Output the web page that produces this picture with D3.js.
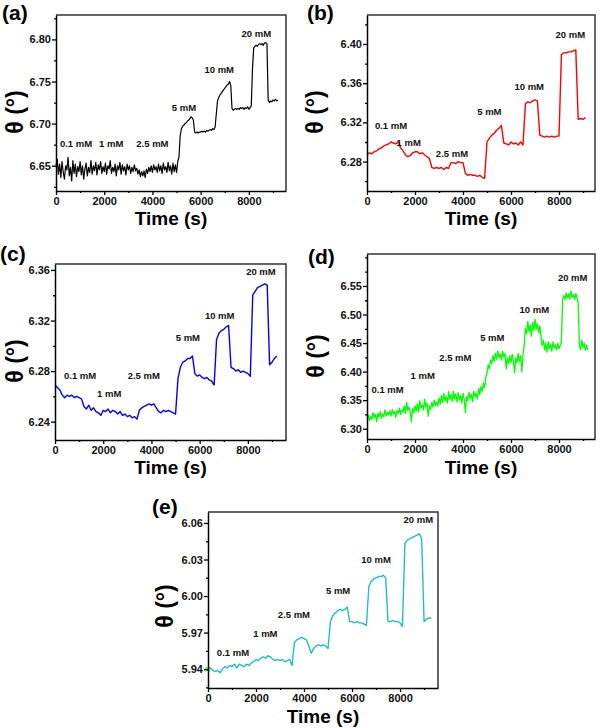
<!DOCTYPE html>
<html><head><meta charset="utf-8">
<script src="https://cdn.jsdelivr.net/npm/d3@7"></script>
<style>
body{margin:0;background:#fff;}
svg{display:block;font-family:Arial,"Liberation Sans",sans-serif;}
</style>
</head><body>
<svg id="fig" width="600" height="728"></svg>
<script>
// ---------- DATA ----------
// 100 s sampling grid (panels b, c, e)
const TIME = [0,100,200,300,400,500,600,700,800,900,1000,1100,1200,1300,1400,1500,1600,1700,1800,1900,
  2000,2100,2200,2300,2400,2500,2600,2700,2800,2900,3000,3100,3200,3300,3400,3500,3600,3700,3800,3900,
  4000,4100,4200,4300,4400,4500,4600,4700,4800,4900,5000,5100,5200,5300,5400,5500,5600,5700,5800,5900,
  6000,6100,6200,6300,6400,6500,6600,6700,6800,6900,7000,7100,7200,7300,7400,7500,7600,7700,7800,7900,
  8000,8100,8200,8300,8400,8500,8600,8700,8800,8900,9000,9100,9200,9300];
// 50 s sampling grid (noisy panels a, d)
const TIME_FINE = [0,50,100,150,200,250,300,350,400,450,500,550,600,650,700,750,800,850,900,950,
  1000,1050,1100,1150,1200,1250,1300,1350,1400,1450,1500,1550,1600,1650,1700,1750,1800,1850,1900,1950,
  2000,2050,2100,2150,2200,2250,2300,2350,2400,2450,2500,2550,2600,2650,2700,2750,2800,2850,2900,2950,
  3000,3050,3100,3150,3200,3250,3300,3350,3400,3450,3500,3550,3600,3650,3700,3750,3800,3850,3900,3950,
  4000,4050,4100,4150,4200,4250,4300,4350,4400,4450,4500,4550,4600,4650,4700,4750,4800,4850,4900,4950,
  5000,5050,5100,5150,5200,5250,5300,5350,5400,5450,5500,5550,5600,5650,5700,5750,5800,5850,5900,5950,
  6000,6050,6100,6150,6200,6250,6300,6350,6400,6450,6500,6550,6600,6650,6700,6750,6800,6850,6900,6950,
  7000,7050,7100,7150,7200,7250,7300,7350,7400,7450,7500,7550,7600,7650,7700,7750,7800,7850,7900,7950,
  8000,8050,8100,8150,8200,8250,8300,8350,8400,8450,8500,8550,8600,8650,8700,8750,8800,8850,8900,8950,
  9000,9050,9100,9150,9200];

const thetaA = [6.650,6.658,6.640,6.652,6.636,6.655,6.642,6.634,6.650,6.645,6.660,6.638,6.648,6.632,6.656,6.641,6.652,6.637,6.649,6.643,
 6.655,6.639,6.650,6.634,6.646,6.653,6.638,6.648,6.642,6.656,6.640,6.650,6.644,6.654,6.639,6.651,6.645,6.655,6.641,6.649,
 6.643,6.653,6.640,6.650,6.646,6.656,6.641,6.648,6.643,6.652,6.638,6.650,6.645,6.654,6.640,6.651,6.644,6.649,6.639,6.652,
 6.645,6.650,6.641,6.648,6.643,6.651,6.644,6.647,6.640,6.645,6.637,6.643,6.638,6.644,6.636,6.646,6.641,6.648,6.643,6.650,
 6.642,6.651,6.645,6.649,6.642,6.652,6.644,6.650,6.641,6.653,6.645,6.649,6.642,6.654,6.644,6.650,6.640,6.653,6.643,6.651,
 6.642,6.655,6.660,6.685,6.694,6.697,6.698,6.700,6.701,6.703,6.704,6.706,6.708,6.707,6.704,6.690,6.689,6.690,6.689,6.690,
 6.690,6.691,6.690,6.691,6.690,6.692,6.691,6.692,6.693,6.692,6.694,6.693,6.696,6.712,6.727,6.731,6.734,6.736,6.738,6.740,
 6.742,6.744,6.746,6.747,6.750,6.745,6.718,6.716,6.717,6.718,6.717,6.718,6.717,6.719,6.718,6.719,6.717,6.719,6.718,6.720,
 6.717,6.719,6.721,6.765,6.790,6.792,6.793,6.792,6.794,6.795,6.794,6.795,6.793,6.796,6.796,6.795,6.728,6.725,6.727,6.726,
 6.728,6.727,6.729,6.727,6.728];

const thetaB = [6.287,6.289,6.288,6.290,6.291,6.293,6.294,6.296,6.297,6.298,
 6.300,6.299,6.298,6.300,6.294,6.291,6.287,6.285,6.286,6.289,
 6.290,6.290,6.288,6.289,6.287,6.285,6.283,6.274,6.273,6.274,
 6.273,6.274,6.272,6.274,6.273,6.279,6.279,6.278,6.280,6.279,
 6.279,6.268,6.266,6.267,6.266,6.266,6.265,6.266,6.264,6.263,
 6.300,6.304,6.307,6.309,6.312,6.314,6.317,6.299,6.298,6.297,
 6.300,6.298,6.299,6.297,6.300,6.297,6.339,6.341,6.340,6.342,
 6.343,6.342,6.307,6.306,6.305,6.306,6.305,6.306,6.305,6.306,
 6.306,6.389,6.391,6.391,6.392,6.392,6.393,6.394,6.323,6.324,
 6.323,6.325];

const thetaC = [6.269,6.267,6.265,6.261,6.259,6.261,6.260,6.261,6.259,6.260,
 6.259,6.258,6.252,6.250,6.253,6.249,6.251,6.248,6.247,6.245,
 6.249,6.248,6.250,6.247,6.249,6.248,6.246,6.248,6.245,6.246,
 6.244,6.245,6.243,6.244,6.242,6.249,6.251,6.252,6.253,6.254,
 6.253,6.254,6.251,6.248,6.247,6.249,6.248,6.249,6.248,6.247,
 6.246,6.274,6.283,6.287,6.288,6.290,6.290,6.292,6.278,6.276,
 6.277,6.275,6.274,6.275,6.273,6.272,6.269,6.305,6.310,6.312,
 6.313,6.315,6.316,6.283,6.282,6.280,6.281,6.279,6.280,6.279,
 6.278,6.276,6.340,6.343,6.346,6.347,6.348,6.349,6.348,6.285,
 6.287,6.290,6.292];

const thetaD = [6.318,6.324,6.314,6.322,6.316,6.328,6.319,6.325,6.313,6.327,6.320,6.330,6.318,6.326,6.321,6.333,6.322,6.329,6.324,6.331,
 6.322,6.334,6.326,6.330,6.320,6.332,6.327,6.336,6.325,6.333,6.329,6.340,6.327,6.346,6.332,6.338,6.330,6.312,6.335,6.328,
 6.340,6.331,6.344,6.330,6.349,6.336,6.342,6.333,6.352,6.338,6.345,6.322,6.340,6.334,6.346,6.338,6.350,6.341,6.347,6.339,
 6.354,6.343,6.358,6.346,6.362,6.349,6.356,6.345,6.365,6.351,6.360,6.348,6.366,6.352,6.361,6.347,6.363,6.350,6.358,6.345,
 6.362,6.352,6.328,6.356,6.349,6.364,6.353,6.360,6.348,6.366,6.356,6.362,6.352,6.370,6.360,6.374,6.366,6.380,6.372,6.390,
 6.398,6.412,6.405,6.420,6.414,6.428,6.418,6.432,6.422,6.436,6.425,6.431,6.420,6.436,6.426,6.432,6.405,6.424,6.414,6.428,
 6.416,6.430,6.420,6.398,6.424,6.416,6.432,6.418,6.428,6.400,6.430,6.445,6.476,6.466,6.488,6.470,6.482,6.462,6.486,6.472,
 6.492,6.474,6.484,6.468,6.480,6.462,6.446,6.455,6.438,6.450,6.434,6.452,6.440,6.448,6.436,6.452,6.441,6.447,6.438,6.450,
 6.440,6.446,6.452,6.525,6.533,6.526,6.538,6.529,6.536,6.527,6.541,6.530,6.535,6.526,6.537,6.529,6.520,6.445,6.438,6.455,
 6.442,6.450,6.437,6.446,6.438];

const thetaE = [5.940,5.941,5.939,5.938,5.939,5.937,5.940,5.942,5.941,5.943,
 5.942,5.944,5.941,5.944,5.943,5.942,5.944,5.943,5.945,5.946,
 5.948,5.947,5.949,5.950,5.949,5.951,5.950,5.948,5.947,5.948,
 5.947,5.948,5.946,5.947,5.948,5.943,5.962,5.964,5.965,5.966,
 5.965,5.964,5.959,5.953,5.957,5.959,5.960,5.959,5.960,5.959,
 5.957,5.979,5.984,5.986,5.988,5.989,5.988,5.989,5.991,5.979,
 5.979,5.978,5.979,5.978,5.978,5.977,5.976,6.008,6.012,6.014,
 6.015,6.016,6.016,6.017,6.015,5.979,5.979,5.980,5.979,5.979,
 5.978,5.975,6.043,6.046,6.047,6.048,6.049,6.050,6.051,6.047,
 5.979,5.981,5.982,5.982];

const concLabels = ["0.1 mM","1 mM","2.5 mM","5 mM","10 mM","20 mM"];
// label anchors in data coordinates (time, theta)
const labelTimeA = [830,2290,4000,5310,6770,8310];
const labelThetaA = [6.672,6.672,6.672,6.715,6.760,6.803];
const labelTimeB = [1000,1740,3540,5100,6760,8470];
const labelThetaB = [6.313,6.296,6.2845,6.328,6.353,6.406];
const labelTimeC = [1040,2250,3680,5510,6830,8540];
const labelThetaC = [6.2734,6.2592,6.2734,6.304,6.321,6.356];
const labelTimeD = [860,2320,3680,5220,6970,8570];
const labelThetaD = [6.362,6.387,6.419,6.453,6.5035,6.558];
const labelTimeE = [1040,2390,3580,5420,7000,8760];
const labelThetaE = [5.951,5.9667,5.982,6.0014,6.027,6.060];

const xTickValues = [0,2000,4000,6000,8000];
const xMinorValues = [1000,3000,5000,7000,9000];
const yTicksA = [6.65,6.70,6.75,6.80], yMinorA = [6.625,6.675,6.725,6.775,6.825];
const yTicksB = [6.28,6.32,6.36,6.40], yMinorB = [6.26,6.30,6.34,6.38,6.42];
const yTicksC = [6.24,6.28,6.32,6.36], yMinorC = [6.26,6.30,6.34];
const yTicksD = [6.30,6.35,6.40,6.45,6.50,6.55], yMinorD = [6.325,6.375,6.425,6.475,6.525,6.575,6.60];
const yTicksE = [5.94,5.97,6.00,6.03,6.06], yMinorE = [5.925,5.955,5.985,6.015,6.045];

const panelNames = ["(a)","(b)","(c)","(d)","(e)"];
const xTitle = "Time (s)";
const yTitle = "θ (°)";

// ---------- LAYOUT ----------
const panels = [
  {name:panelNames[0], time:TIME_FINE, vals:thetaA, color:"#000000", lt:labelTimeA, lv:labelThetaA, yt:yTicksA, ym:yMinorA,
   box:{l:56,r:286,t:15,b:191}, xMax:9540, yDom:[6.62,6.829], nameXY:[2,20], yTitleXY:[15,112], xTitleY:225, lw:1.2},
  {name:panelNames[1], time:TIME, vals:thetaB, color:"#ff0000", lt:labelTimeB, lv:labelThetaB, yt:yTicksB, ym:yMinorB,
   box:{l:367,r:595,t:15,b:191}, xMax:9500, yDom:[6.25,6.4296], nameXY:[307,20], yTitleXY:[315,112], xTitleY:225, lw:1.4},
  {name:panelNames[2], time:TIME, vals:thetaC, color:"#0000ff", lt:labelTimeC, lv:labelThetaC, yt:yTicksC, ym:yMinorC,
   box:{l:55,r:286,t:264,b:440}, xMax:9580, yDom:[6.2255,6.3647], nameXY:[0,261], yTitleXY:[15,361], xTitleY:474, lw:1.4},
  {name:panelNames[3], time:TIME_FINE, vals:thetaD, color:"#00ff00", lt:labelTimeD, lv:labelThetaD, yt:yTicksD, ym:yMinorD,
   box:{l:367,r:595,t:254,b:439}, xMax:9500, yDom:[6.282,6.606], nameXY:[308,264], yTitleXY:[316,356], xTitleY:474, lw:1.3},
  {name:panelNames[4], time:TIME, vals:thetaE, color:"#22bfc0", lt:labelTimeE, lv:labelThetaE, yt:yTicksE, ym:yMinorE,
   box:{l:208,r:438,t:512,b:688}, xMax:9580, yDom:[5.9245,6.069], nameXY:[152,514], yTitleXY:[165,606], xTitleY:723, lw:1.4}
];

const svg = d3.select("#fig");

function styleAxis(sel){
  sel.select(".domain").attr("stroke","#000").attr("stroke-width",1.5);
  sel.selectAll(".tick line").attr("stroke","#000").attr("stroke-width",1.3);
  sel.selectAll(".tick text").attr("font-size",11).attr("font-weight","bold").attr("fill","#111");
}

panels.forEach((p,pi)=>{
  const g = svg.append("g");
  const B = p.box;
  const x = d3.scaleLinear().domain([0,p.xMax]).range([B.l,B.r]);
  const y = d3.scaleLinear().domain(p.yDom).range([B.b,B.t]);

  // frame (top/right)
  g.append("path")
    .attr("d",`M${B.l},${B.t}H${B.r}V${B.b}`)
    .attr("fill","none").attr("stroke","#333").attr("stroke-width",1.5);

  // data line
  const pts = p.vals.map((v,i)=>[p.time[i],v]);
  g.append("path").datum(pts)
    .attr("d",d3.line().x(d=>x(d[0])).y(d=>y(d[1])))
    .attr("fill","none").attr("stroke",p.color).attr("stroke-width",p.lw)
    .attr("stroke-linejoin","round");

  if(pi===4){
    // small green start marker
    const gx = x(p.time[0]), gy = y(p.vals[0]);
    g.append("path").attr("d",`M${gx-2},${gy-2}L${gx+2},${gy+2}M${gx-2},${gy+2}L${gx+2},${gy-2}`)
      .attr("stroke","#33ff33").attr("stroke-width",1.5);
  }

  // axes
  const xa = g.append("g").attr("transform",`translate(0,${B.b})`)
    .call(d3.axisBottom(x).tickValues(xTickValues).tickSize(4).tickSizeOuter(0).tickPadding(2).tickFormat(d3.format("d")));
  styleAxis(xa);
  const xm = g.append("g").attr("transform",`translate(0,${B.b})`)
    .call(d3.axisBottom(x).tickValues(xMinorValues.filter(v=>v<=p.xMax)).tickSize(2).tickSizeOuter(0).tickFormat(""));
  xm.select(".domain").remove();
  xm.selectAll(".tick line").attr("stroke","#000").attr("stroke-width",1.3);

  const ya = g.append("g").attr("transform",`translate(${B.l},0)`)
    .call(d3.axisLeft(y).tickValues(p.yt).tickSize(4).tickSizeOuter(0).tickPadding(1).tickFormat(d3.format(".2f")));
  styleAxis(ya);
  const ymn = g.append("g").attr("transform",`translate(${B.l},0)`)
    .call(d3.axisLeft(y).tickValues(p.ym.filter(v=>v>=p.yDom[0]&&v<=p.yDom[1])).tickSize(2).tickSizeOuter(0).tickFormat(""));
  ymn.select(".domain").remove();
  ymn.selectAll(".tick line").attr("stroke","#000").attr("stroke-width",1.3);

  // concentration labels
  concLabels.forEach((t,i)=>{
    g.append("text").attr("x",x(p.lt[i])).attr("y",y(p.lv[i]))
      .attr("text-anchor","middle").attr("font-size",9.5).attr("font-weight","bold").attr("fill","#111")
      .text(t);
  });

  // titles
  g.append("text").attr("x",(B.l+B.r)/2).attr("y",p.xTitleY)
    .attr("text-anchor","middle").attr("font-size",19).attr("font-weight","bold").attr("fill","#000")
    .text(xTitle);
  g.append("text")
    .attr("transform",`translate(${p.yTitleXY[0]},${p.yTitleXY[1]}) rotate(-90)`)
    .attr("text-anchor","middle").attr("dy","0.35em").attr("font-size",23).attr("font-weight","bold").attr("fill","#000")
    .text(yTitle);
  g.append("text").attr("x",p.nameXY[0]).attr("y",p.nameXY[1])
    .attr("font-size",21).attr("font-weight","bold").attr("fill","#000")
    .text(p.name);
});
</script>
</body></html>
